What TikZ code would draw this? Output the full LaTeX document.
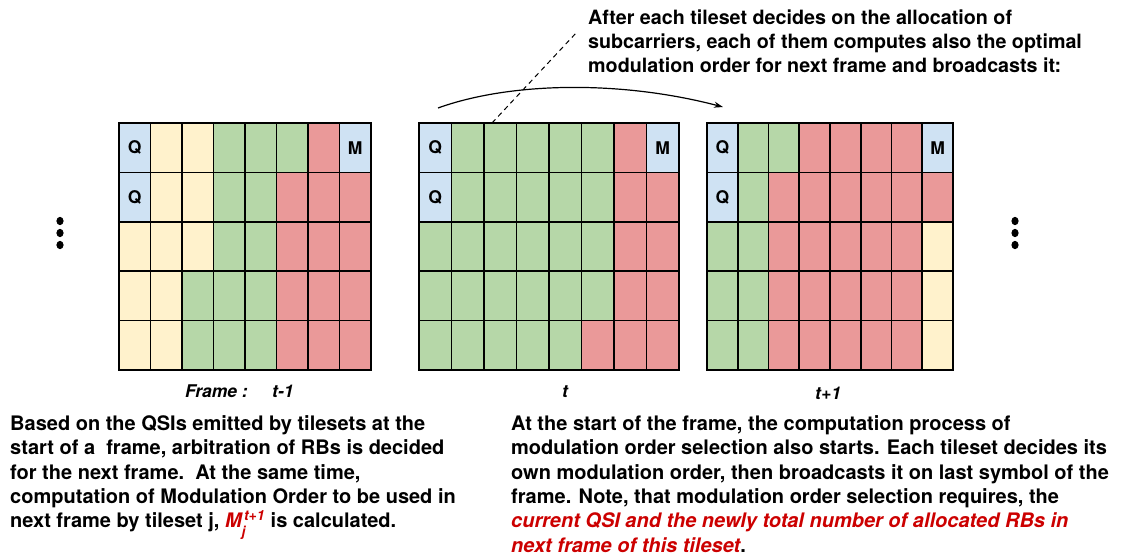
\documentclass[tikz,border=0pt]{standalone}
\usepackage{fontspec}
\setmainfont{TeX Gyre Heros}
\usetikzlibrary{arrows.meta}

\definecolor{cellq}{HTML}{CFE2F3}
\definecolor{cellm}{HTML}{CFE2F3}
\definecolor{celly}{HTML}{FFF2CC}
\definecolor{cellg}{HTML}{B6D7A8}
\definecolor{cellr}{HTML}{EA9999}
\definecolor{notered}{HTML}{CC0000}

\tikzset{
  cell/.style={draw=black, line width=1.6pt},
  symlabel/.style={font=\fontsize{17.5}{20}\selectfont\bfseries, inner sep=0pt},
  framelabel/.style={font=\fontsize{17.5}{20}\selectfont\bfseries\itshape, inner sep=0pt, anchor=base west},
  note/.style={align=left, inner sep=0pt, anchor=north west},
}

% one frame: name, left x, cell width, rows of cell codes
\newcommand{\framegrid}[4]{%
  \foreach \row [count=\j] in {#4} {
    \foreach \c [count=\i] in \row {
      \filldraw[cell, fill=cell\c] ({#2+(\i-1)*#3},{123+(\j-1)*49.4}) rectangle ++(#3,49.4);
      \coordinate (#1-\j-\i) at ({#2+(\i-0.5)*#3},{123+(\j-0.5)*49.4});
    }
  }
}

\begin{document}
\begin{tikzpicture}[x=1pt,y=-1pt]
  \useasboundingbox (0,0) rectangle (1123,556);

  % frames t-1, t, t+1
  \framegrid{A}{119}{31.5}{{q,y,y,g,g,g,r,m},{q,y,y,g,g,r,r,r},{y,y,y,g,g,r,r,r},{y,y,g,g,g,r,r,r},{y,y,g,g,g,r,r,r}}
  \framegrid{B}{419}{32.5}{{q,g,g,g,g,g,r,m},{q,g,g,g,g,g,r,r},{g,g,g,g,g,g,r,r},{g,g,g,g,g,g,r,r},{g,g,g,g,g,r,r,r}}
  \framegrid{C}{707}{30.75}{{q,g,g,r,r,r,r,m},{q,g,r,r,r,r,r,r},{g,g,r,r,r,r,r,y},{g,g,r,r,r,r,r,y},{g,g,r,r,r,r,r,y}}

  \foreach \f in {A,B,C}{
    \node[symlabel] (\f-q1) at (\f-1-1) {Q};
    \node[symlabel] (\f-q2) at (\f-2-1) {Q};
    \node[symlabel] (\f-m) at (\f-1-8) {M};
  }

  \node[framelabel] (framename) at (185,397) {Frame :};
  \node[framelabel] (tprev) at (272,397) {t-1};
  \node[framelabel] (tnow) at (562,397) {t};
  \node[framelabel] (tnext) at (815,399) {t+1};

  % more frames before and after
  \foreach \y in {221,233,245}{
    \fill (60,\y) ellipse (3.6 and 4.2);
    \fill (1015,\y) ellipse (3.6 and 4.2);
  }

  % broadcast of the modulation order
  \coordinate (arcstart) at (438,108);
  \coordinate (arcend) at (723,107);
  \draw[line width=1.2pt, -{Stealth[length=9pt,width=6pt]}] (arcstart) .. controls (510,82) and (620,80) .. (arcend);

  \node[note, font=\fontsize{19.7}{24}\selectfont\bfseries] (topnote) at (588,10)
    {After each tileset decides on the allocation of\\
     subcarriers, each of them computes also the optimal\\
     modulation order for next frame and broadcasts it:};

  \coordinate (dashfoot) at (492,123);
  \coordinate (dashtop) at (577,32);
  \draw[line width=1pt, dash pattern=on 5pt off 4pt] (dashfoot) -- (dashtop);

  \node[note, font=\fontsize{20}{24.3}\selectfont\bfseries] (leftnote) at (10,415.5)
    {Based on the QSIs emitted by tilesets at the\\
     start of a\ \ frame, arbitration of RBs is decided\\
     for the next frame.\ \ At the same time,\\
     computation of Modulation Order to be used in\\
     next frame by tileset j, {\color{notered}\itshape M\rlap{\raisebox{-0.5ex}{\textsubscript{j}}}\textsuperscript{\,t+1}} is calculated.};

  \node[note, font=\fontsize{20}{24.3}\selectfont\bfseries] (rightnote) at (511,415.5)
    {At the start of the frame, the computation process of\\
     modulation order selection also starts. Each tileset decides its\\
     own modulation order, then broadcasts it on last symbol of the\\
     frame. Note, that modulation order selection requires, the\\
     {\color{notered}\itshape current QSI and the newly total number of allocated RBs in}\\
     {\color{notered}\itshape next frame of this tileset}.};
\end{tikzpicture}
\end{document}
